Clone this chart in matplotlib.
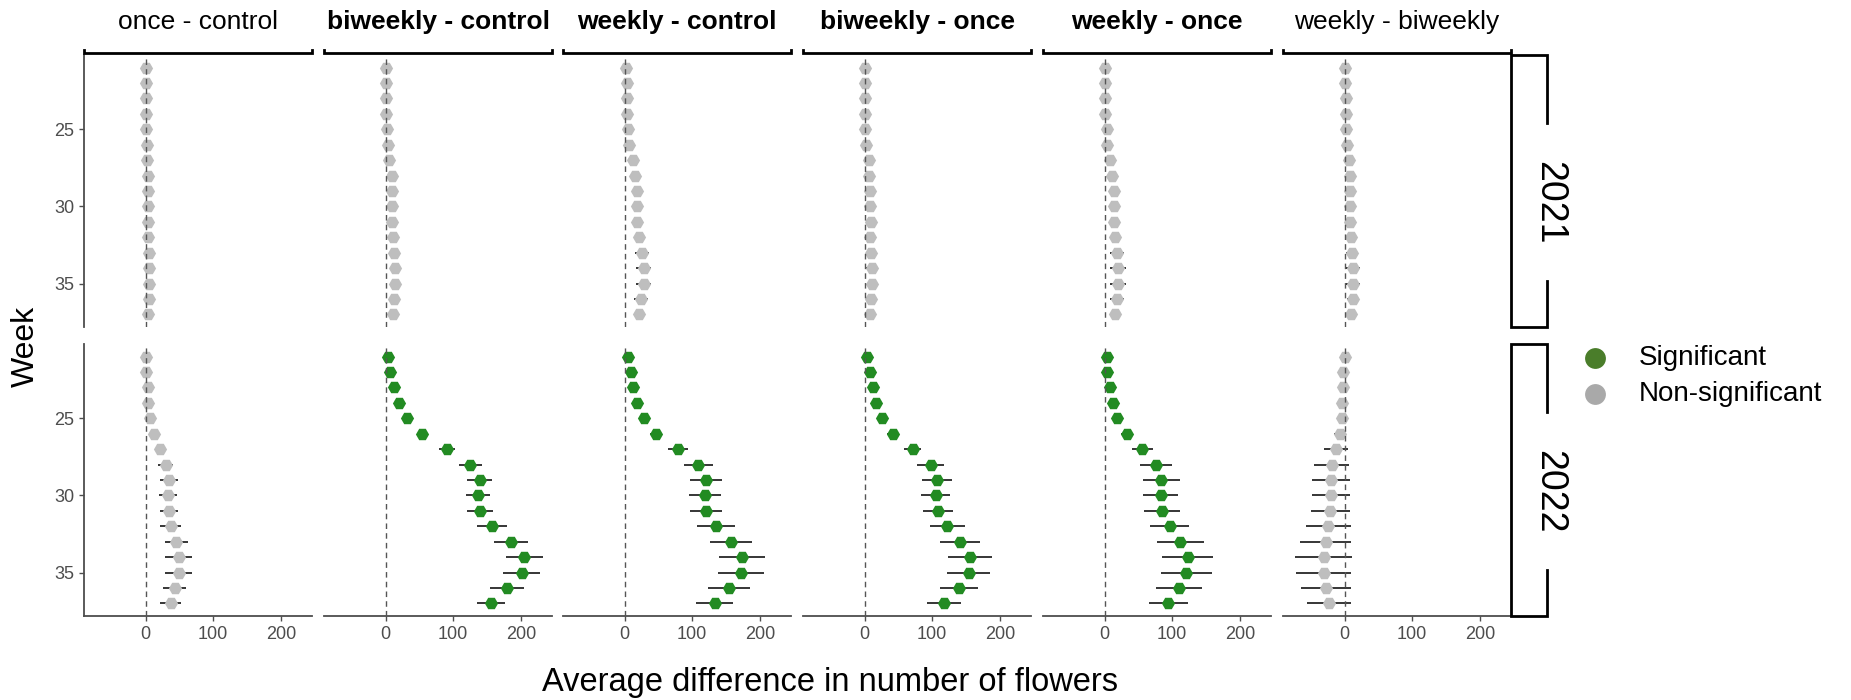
import matplotlib
matplotlib.use("Agg")
import matplotlib.pyplot as plt
from matplotlib.lines import Line2D

plt.rcParams['font.family'] = ['Liberation Sans', 'DejaVu Sans']

# ---------------------------------------------------------------- data
weeks = [21, 22, 23, 24, 25, 26, 27, 28, 29, 30, 31, 32, 33, 34, 35, 36, 37]

comparisons = ["once - control", "biweekly - control", "weekly - control",
               "biweekly - once", "weekly - once", "weekly - biweekly"]
years = ["2021", "2022"]

# significance of each contrast, per year
sig_2021 = [False, False, False, False, False, False]
sig_2022 = [False, True, True, True, True, False]

# 2021: estimated difference and half-width of the confidence interval
est_2021_once_control = [0, 0.5, 0.5, 0.5, 1, 2, 2, 3, 3, 3, 3.5, 3.5, 5, 5, 5, 5, 4]
err_2021_once_control = [1, 1, 1, 1, 1.5, 1.5, 2, 2, 2.5, 2.5, 2.5, 3, 4, 4.5, 4.5, 4, 3.5]
est_2021_biweekly_control = [0, 0, 0, 0, 2, 3, 5, 9, 9, 9, 9, 10.5, 12, 14, 14, 12, 11]
err_2021_biweekly_control = [1, 1, 1, 1, 1.5, 2, 2.5, 3.5, 4, 4, 4, 4.5, 5, 6, 6, 5, 4.5]
est_2021_weekly_control = [2, 3, 3.5, 3.5, 5, 7, 13, 16, 19, 18, 18, 22, 26, 28.5, 28.5, 24, 22]
err_2021_weekly_control = [1, 1, 1, 1.5, 2, 2.5, 4, 5, 6, 6, 6, 7, 10, 11, 11, 10, 8]
est_2021_biweekly_once = [0, 1, 1, 1, 1, 2, 7, 7, 8, 8, 9, 8, 9.5, 11, 11, 9.5, 7.5]
err_2021_biweekly_once = [1, 1, 1, 1, 1, 1.5, 2.5, 3, 3.5, 3.5, 3.5, 4, 5, 9, 8, 5, 4]
est_2021_weekly_once = [1, 1, 1, 0, 3, 4, 8, 11, 13.5, 13.5, 13.5, 15.6, 18, 20, 20, 18, 16]
err_2021_weekly_once = [1, 1, 1, 1, 1.5, 2, 3, 4, 5, 5, 5, 7, 10, 12, 12, 10, 8]
est_2021_weekly_biweekly = [0, 0, 1.7, 1.7, 1.7, 3.4, 6, 8.5, 8.5, 8.5, 8.5, 9.6, 11, 12.5, 12.5, 12.5, 10]
err_2021_weekly_biweekly = [1, 1, 1, 1, 1.5, 2, 3, 4, 4.5, 4.5, 4.5, 6, 9, 11, 10, 9, 7]

# 2022
est_2022_once_control = [0, 1, 3, 3.5, 7, 13, 22, 30, 35, 33, 35, 37, 45, 49, 49, 43, 37]
err_2022_once_control = [1, 1, 2, 2, 3, 4, 7, 11, 13, 13, 13, 15, 17, 20, 20, 17, 15]
est_2022_biweekly_control = [3, 6, 13, 20, 31, 54, 91, 125, 139, 137, 140, 157, 185, 205, 201, 180, 156]
err_2022_biweekly_control = [2, 3, 4, 5, 6, 8, 12, 17, 19, 18, 19, 22, 25, 27, 27, 25, 21]
est_2022_weekly_control = [5, 9.5, 13, 18, 28, 46, 79, 109, 120, 119, 120, 135, 158, 174, 172, 154, 133]
err_2022_weekly_control = [2, 3, 4, 5, 6, 9, 15, 21, 24, 24, 24, 28, 31, 34, 34, 31, 27]
est_2022_biweekly_once = [3, 7.5, 13, 17, 26, 42, 71, 98, 107, 105, 109, 122, 141, 156, 154, 139, 118]
err_2022_biweekly_once = [2, 3, 4, 5, 6, 9, 13, 20, 22, 22, 22, 26, 29, 32, 32, 28, 25]
est_2022_weekly_once = [3, 4, 8, 12, 19, 33, 56, 76, 84, 83, 85, 96, 112, 123, 121, 110, 94]
err_2022_weekly_once = [2, 2, 3, 4, 6, 9, 16, 23, 27, 26, 26, 29, 35, 38, 38, 34, 29]
est_2022_weekly_biweekly = [0, -2, -2, -4, -4, -7, -13, -19, -20, -20, -21, -24, -28, -31, -31, -28, -23]
err_2022_weekly_biweekly = [2, 3, 4, 5, 6, 9, 18, 26, 28, 28, 29, 33, 38, 42, 41, 37, 33]

x_ticks = [0, 100, 200]
y_ticks = [25, 30, 35]

estimates = {
    "2021": [est_2021_once_control, est_2021_biweekly_control, est_2021_weekly_control,
             est_2021_biweekly_once, est_2021_weekly_once, est_2021_weekly_biweekly],
    "2022": [est_2022_once_control, est_2022_biweekly_control, est_2022_weekly_control,
             est_2022_biweekly_once, est_2022_weekly_once, est_2022_weekly_biweekly],
}
errors = {
    "2021": [err_2021_once_control, err_2021_biweekly_control, err_2021_weekly_control,
             err_2021_biweekly_once, err_2021_weekly_once, err_2021_weekly_biweekly],
    "2022": [err_2022_once_control, err_2022_biweekly_control, err_2022_weekly_control,
             err_2022_biweekly_once, err_2022_weekly_once, err_2022_weekly_biweekly],
}
significance = {"2021": sig_2021, "2022": sig_2022}

# ---------------------------------------------------------------- layout
W, H = 1851, 700
fig = plt.figure(figsize=(W / 100, H / 100), dpi=100)
fig.patch.set_facecolor("white")


def fx(px):
    return px / W


def fy(py):
    return 1 - py / H


col_left = [84, 324, 563, 803, 1043, 1283]
col_w = 228
row_top = [54.6, 343.6]
row_h = 272.8

GREEN = "#228B22"
GREY = "#BEBEBE"
AXIS = "#4D4D4D"

for r, year in enumerate(years):
    for c, comp in enumerate(comparisons):
        ax = fig.add_axes([fx(col_left[c]), fy(row_top[r] + row_h),
                           col_w / W, row_h / H])
        est = estimates[year][c]
        err = errors[year][c]
        colour = GREEN if significance[year][c] else GREY

        ax.errorbar(est, weeks, xerr=err, fmt="none", ecolor="#262626",
                    elinewidth=1.3, capsize=0, zorder=2)
        ax.plot(est, weeks, linestyle="none", marker="H", markersize=9.5,
                color=colour, markeredgewidth=0, zorder=3)
        ax.axvline(0, color="#555555", lw=1.0, ls=(0, (4, 3)), zorder=4)

        ax.set_xlim(-91, 246)
        ax.set_ylim(37.84, 20.16)

        for side in ("top", "right"):
            ax.spines[side].set_visible(False)
        ax.spines["left"].set_visible(c == 0)
        ax.spines["bottom"].set_visible(r == 1)
        for side in ("left", "bottom"):
            ax.spines[side].set_color(AXIS)
            ax.spines[side].set_linewidth(1.3)

        if c == 0:
            ax.set_yticks(y_ticks)
            ax.set_yticklabels([str(t) for t in y_ticks])
        else:
            ax.set_yticks([])
        if r == 1:
            ax.set_xticks(x_ticks)
            ax.set_xticklabels([str(t) for t in x_ticks])
        else:
            ax.set_xticks([])
        ax.tick_params(length=3.8, width=1.0, color=AXIS, labelcolor=AXIS,
                       labelsize=13, pad=3)
        ax.set_facecolor("none")

# column strips: label above a bracket line
for c, comp in enumerate(comparisons):
    l = col_left[c]
    rgt = l + col_w
    fig.add_artist(Line2D([fx(l), fx(l), fx(rgt), fx(rgt)],
                          [fy(50), fy(53), fy(53), fy(50)],
                          color="black", lw=2.0, solid_joinstyle="miter"))
    weight = "bold" if sig_2022[c] else "normal"
    fig.text(fx(l + col_w / 2), fy(22), comp, ha="center", va="center",
             fontsize=19, fontweight=weight, color="black")

# row strips: open box on the right with the year label
sx0, sx1 = 1511, 1547
for r, year in enumerate(years):
    top = row_top[r]
    bot = top + row_h
    fig.add_artist(Line2D([fx(sx1), fx(sx1), fx(sx0), fx(sx0), fx(sx1), fx(sx1)],
                          [fy(top + 68), fy(top), fy(top), fy(bot), fy(bot), fy(bot - 46)],
                          color="black", lw=2.0, solid_joinstyle="miter"))
    fig.text(fx(1549), fy(top + 148), year, rotation=270, ha="center",
             va="center", fontsize=27, color="black")

# legend
legend_items = [("Significant", "#4A7D2A"), ("Non-significant", "#A9A9A9")]
for i, (lab, col) in enumerate(legend_items):
    yy = 358 + 36 * i
    fig.add_artist(Line2D([fx(1595)], [fy(yy)], marker="o", markersize=15,
                          color=col, markeredgewidth=0, linestyle="none"))
    fig.text(fx(1639), fy(yy), lab, ha="left", va="center", fontsize=20,
             color="black")

# axis titles
fig.text(fx(26), fy(346), "Week", rotation=90, ha="center", va="center",
         fontsize=23, color="black")
fig.text(fx(830), fy(683), "Average difference in number of flowers",
         ha="center", va="center", fontsize=23.5, color="black")

fig.savefig("out.png", dpi=100, facecolor="white")
